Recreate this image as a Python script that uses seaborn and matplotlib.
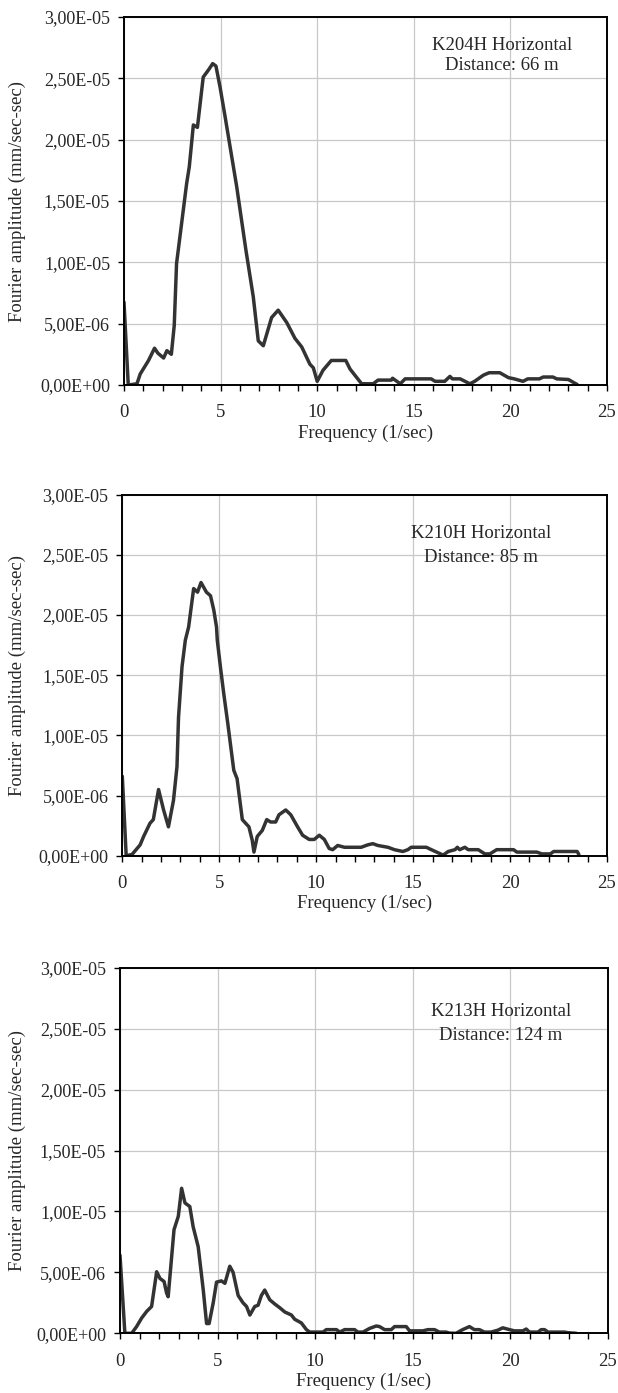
import numpy as np
import pandas as pd
import matplotlib
matplotlib.use("Agg")
import matplotlib.pyplot as plt
from matplotlib.ticker import MultipleLocator, FuncFormatter
import seaborn as sns

# ---------------- data (amplitudes in 1e-6 mm/sec-sec) ----------------
freq_k204 = [0, 0.22, 0.67, 0.84, 1.27, 1.58, 1.75, 2.05, 2.22, 2.45, 2.6, 2.72, 3.24, 3.38,
             3.59, 3.8, 4.1, 4.38, 4.59, 4.76, 4.97, 5.23, 5.83, 6.31, 6.69, 6.95, 7.21, 7.64,
             7.98, 8.42, 8.85, 9.2, 9.62, 9.8, 10.0, 10.3, 10.73, 11.48, 11.7, 12.3, 12.9,
             13.15, 13.84, 13.9, 14.3, 14.55, 15.9, 16.1, 16.6, 16.87, 17.0, 17.4, 17.9,
             18.15, 18.6, 18.9, 19.45, 19.9, 20.2, 20.65, 20.9, 21.5, 21.7, 22.2, 22.4, 23.0,
             23.33, 23.45]
amp_k204 = [6.75, 0, 0.1, 0.9, 2.0, 3.0, 2.6, 2.2, 2.8, 2.5, 4.85, 9.9, 16.4, 17.8, 21.2,
            21.0, 25.1, 25.7, 26.2, 26.0, 24.3, 21.9, 16.2, 11.0, 7.2, 3.6, 3.2, 5.5, 6.1,
            5.1, 3.8, 3.1, 1.7, 1.4, 0.3, 1.2, 2.0, 2.0, 1.3, 0.1, 0.1, 0.4, 0.4, 0.55, 0.1,
            0.5, 0.5, 0.3, 0.3, 0.7, 0.5, 0.5, 0.1, 0.3, 0.8, 1.0, 1.0, 0.6, 0.5, 0.3, 0.5,
            0.5, 0.65, 0.65, 0.5, 0.45, 0.15, 0.05]

freq_k210 = [0, 0.2, 0.5, 0.92, 1.1, 1.43, 1.6, 1.87, 2.13, 2.38, 2.64, 2.82, 2.9, 3.08,
             3.25, 3.42, 3.68, 3.88, 4.06, 4.34, 4.55, 4.72, 4.86, 4.9, 5.06, 5.23, 5.44,
             5.75, 5.92, 6.19, 6.36, 6.53, 6.7, 6.79, 6.96, 7.22, 7.45, 7.65, 7.91, 8.08,
             8.43, 8.69, 9.04, 9.3, 9.64, 9.9, 10.16, 10.42, 10.67, 10.85, 11.11, 11.46,
             12.32, 12.66, 12.92, 13.18, 13.7, 14.04, 14.47, 14.73, 14.9, 15.68, 15.94,
             16.55, 16.81, 17.16, 17.28, 17.4, 17.67, 17.84, 18.36, 18.7, 18.96, 19.31,
             20.18, 20.35, 21.38, 21.64, 22.08, 22.25, 23.46, 23.55]
amp_k210 = [6.6, 0, 0.1, 0.9, 1.6, 2.7, 3.0, 5.5, 3.8, 2.4, 4.6, 7.4, 11.5, 15.7, 17.9,
            19.0, 22.2, 21.9, 22.7, 21.9, 21.6, 20.4, 19.0, 17.9, 15.7, 13.5, 11.0, 7.1,
            6.4, 3.0, 2.7, 2.4, 1.3, 0.3, 1.6, 2.1, 3.0, 2.8, 2.8, 3.4, 3.8, 3.4, 2.4, 1.7,
            1.35, 1.35, 1.7, 1.35, 0.6, 0.5, 0.85, 0.7, 0.7, 0.9, 1.0, 0.85, 0.7, 0.5, 0.35,
            0.5, 0.7, 0.7, 0.5, 0.05, 0.35, 0.5, 0.7, 0.5, 0.7, 0.5, 0.5, 0.15, 0.15, 0.5,
            0.5, 0.3, 0.3, 0.15, 0.15, 0.35, 0.35, 0.1]

freq_k213 = [0, 0.25, 0.6, 0.85, 1.11, 1.37, 1.62, 1.88, 2.05, 2.26, 2.39, 2.47, 2.65,
             2.77, 2.99, 3.16, 3.33, 3.58, 3.75, 4.01, 4.27, 4.44, 4.57, 4.78, 4.95, 5.2,
             5.38, 5.63, 5.8, 6.06, 6.31, 6.49, 6.66, 6.91, 7.08, 7.25, 7.42, 7.68, 7.94,
             8.19, 8.45, 8.79, 8.96, 9.3, 9.56, 9.73, 10.15, 10.41, 10.58, 11.1, 11.27,
             11.52, 12.03, 12.2, 12.46, 12.8, 13.14, 13.31, 13.57, 13.91, 14.08, 14.68,
             14.85, 15.53, 15.79, 16.13, 16.38, 16.72, 16.89, 17.23, 17.57, 17.92, 18.17,
             18.43, 18.69, 19.03, 19.37, 19.63, 19.97, 20.23, 20.66, 20.83, 21.0, 21.43,
             21.6, 21.77, 21.95, 22.8, 22.97, 23.4]
amp_k213 = [6.4, 0, 0, 0.55, 1.25, 1.8, 2.2, 5.05, 4.5, 4.25, 3.3, 3.0, 6.3, 8.5, 9.6,
            11.9, 10.7, 10.4, 8.75, 7.1, 3.55, 0.8, 0.8, 2.5, 4.2, 4.3, 4.1, 5.5, 5.0, 3.1,
            2.5, 2.2, 1.5, 2.2, 2.3, 3.1, 3.55, 2.75, 2.4, 2.1, 1.75, 1.5, 1.15, 0.85, 0.3,
            0.1, 0.1, 0.1, 0.3, 0.3, 0.1, 0.3, 0.3, 0.1, 0.1, 0.4, 0.6, 0.55, 0.3, 0.3, 0.55,
            0.55, 0.2, 0.2, 0.3, 0.3, 0.1, 0.1, 0.02, 0, 0.3, 0.55, 0.3, 0.3, 0.1, 0.1, 0.25,
            0.45, 0.3, 0.2, 0.2, 0.35, 0.1, 0.1, 0.3, 0.3, 0.1, 0.1, 0.05, 0]

titles = ["K204H Horizontal", "K210H Horizontal", "K213H Horizontal"]
distances = ["Distance: 66 m", "Distance: 85 m", "Distance: 124 m"]
x_label = "Frequency (1/sec)"
y_label = "Fourier amplitude (mm/sec-sec)"

# ---------------- style ----------------
sns.set_style("white")
plt.rcParams["font.family"] = ["Liberation Serif", "DejaVu Serif"]

W, H = 618, 1393
fig = plt.figure(figsize=(W / 100, H / 100), dpi=100)

# axes boxes in pixels: left, top, right, bottom
boxes = [(124, 17, 607, 385), (122.3, 494.7, 607, 855.7), (120, 967.7, 607.5, 1333.3)]
# annotation centres in pixels (x, y1, y2)
ann = [(502, 45, 66), (481, 533, 558), (501, 1011, 1036)]

series = [(freq_k204, amp_k204), (freq_k210, amp_k210), (freq_k213, amp_k213)]


def sci_fmt(v, pos):
    return f"{v:.2E}".replace(".", ",")


for i, ((l, t, r, b), (fx, ay)) in enumerate(zip(boxes, series)):
    ax = fig.add_axes([l / W, 1 - b / H, (r - l) / W, (b - t) / H])
    df = pd.DataFrame({"f": fx, "a": np.array(ay) * 1e-6})
    sns.lineplot(data=df, x="f", y="a", ax=ax, color="#333333", linewidth=2.5,
                 estimator=None, sort=False, solid_joinstyle="round",
                 solid_capstyle="round")
    ax.set_xlim(0, 25)
    ax.set_ylim(0, 3e-5)
    ax.xaxis.set_major_locator(MultipleLocator(5))
    ax.xaxis.set_minor_locator(MultipleLocator(1))
    ax.yaxis.set_major_locator(MultipleLocator(5e-6))
    ax.yaxis.set_major_formatter(FuncFormatter(sci_fmt))
    ax.grid(True, which="major", color="#c8c8c8", linewidth=0.9)
    ax.set_axisbelow(True)
    for s in ax.spines.values():
        s.set_visible(True)
        s.set_color("black")
        s.set_linewidth(1.4)
    ax.tick_params(axis="both", which="both", direction="out", length=4, width=1,
                   color="black", bottom=True, left=True)
    ax.tick_params(axis="x", labelsize=13.5, pad=10)
    ax.tick_params(axis="y", labelsize=13, pad=6)
    ax.set_xlabel(x_label, fontsize=13.5)
    ax.xaxis.label.set_va("center")
    ax.xaxis.set_label_coords(0.5, -48 / (b - t))
    ax.set_ylabel(y_label, fontsize=13.5)
    ax.yaxis.label.set_va("center")
    ax.yaxis.set_label_coords((17 - l) / (r - l), 0.5)
    cx, y1, y2 = ann[i]
    ax.text(cx, H - y1, titles[i], transform=None, ha="center", va="center", fontsize=13.5)
    ax.text(cx, H - y2, distances[i], transform=None, ha="center", va="center", fontsize=13.5)

fig.savefig("out.png", dpi=100, facecolor="white")
